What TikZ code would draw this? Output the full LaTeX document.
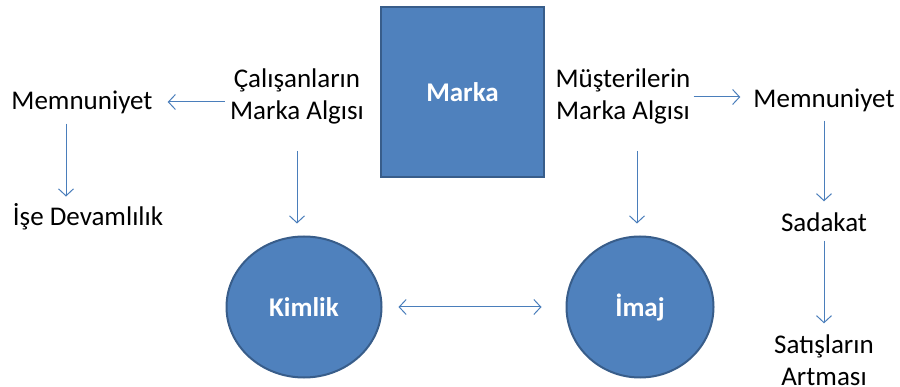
\documentclass[tikz,border=0pt]{standalone}
\usepackage{fontspec}
\setmainfont{Carlito}
\usepackage{tikz}
\usetikzlibrary{arrows.meta}
\usetikzlibrary{shapes.geometric}
\usetikzlibrary{calc}
\usetikzlibrary{positioning}

\definecolor{markafill}{HTML}{4F81BD}
\definecolor{markaline}{HTML}{385D8A}
\definecolor{okcolor}{HTML}{4A7EBB}

\tikzset{
  lbl/.style={font=\fontsize{27}{32}\selectfont, align=center, inner sep=3pt},
  blob/.style={fill=markafill, draw=markaline, line width=2pt,
    text=white, font=\fontsize{27}{33}\selectfont\bfseries, inner sep=0pt},
  link/.style={->, draw=okcolor, line width=1pt}
}

\begin{document}
\begin{tikzpicture}[x=1pt,y=-1pt,>={Straight Barb[length=7pt,width=15pt]}]
     \useasboundingbox (0,0) rectangle (900,387);

     % middle
     \node[blob, rectangle, minimum width=163pt, minimum height=170pt]
       (marka) at (462.5,92) {Marka};
     \node[blob, ellipse, minimum width=155pt, minimum height=141pt]
       (kimlik) at (304,307) {Kimlik};
     \node[blob, ellipse, minimum width=147pt, minimum height=141pt]
       (imaj) at (640,307) {İmaj};
     \node[lbl] (calisan) at (297,96) {Çalışanların\\Marka Algısı};
     \node[lbl] (musteri) at (623,96) {Müşterilerin\\Marka Algısı};

     % left side
     \node[lbl] (memL) at (82,102) {Memnuniyet};
     \node[lbl] (ise) at (88,217) {İşe Devamlılık};

     % right side
     \node[lbl] (memR) at (824,100) {Memnuniyet};
     \node[lbl] (sadakat) at (824,222) {Sadakat};
     \node[lbl] (satis) at (824,360) {Satışların\\Artması};

     % arrows
     \draw[link, shorten <=2pt, shorten >=12pt]
       (calisan.west |- memL.east) -- (memL.east);
     \draw[link, shorten <=7pt, shorten >=4pt]
       ([xshift=-16pt]memL.south) -- ([xshift=-16pt]memL.south |- ise.north);
     \draw[link, shorten <=24pt, shorten >=12pt]
       (calisan.south) -- (calisan.south |- kimlik.north);
     \draw[link, shorten <=24pt, shorten >=12pt]
       ([xshift=-3pt]imaj.north |- musteri.south) -- ([xshift=-3pt]imaj.north);
     \draw[link, shorten <=0pt, shorten >=10pt]
       ([yshift=-1pt]musteri.east) -- ([yshift=-1pt]musteri.east -| memR.west);
     \draw[link, <->, shorten <=16pt, shorten >=24pt]
       (kimlik.east) -- (imaj.west);
     \foreach \from/\to in {memR/sadakat, sadakat/satis}
       {
         \draw[link, shorten <=6pt, shorten >=8pt] (\from.south) -- (\to.north);
       }
\end{tikzpicture}
\end{document}
